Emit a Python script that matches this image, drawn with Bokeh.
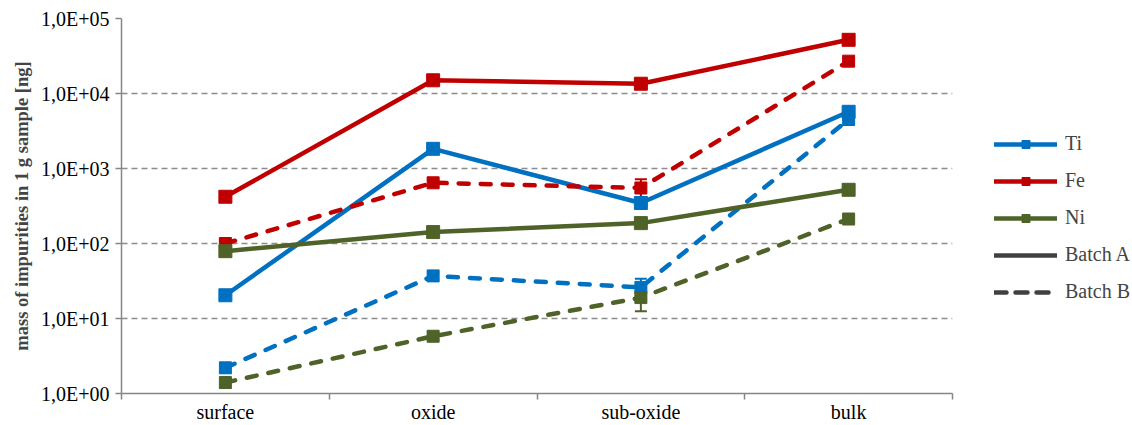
from bokeh.plotting import figure
from bokeh.layouts import row
from bokeh.models import (FixedTicker, Legend, LegendItem, ColumnDataSource, Whisker, TeeHead, Range1d)
from bokeh.embed import file_html
from bokeh.resources import INLINE

categories = ["surface", "oxide", "sub-oxide", "bulk"]
ti_a = [20.4, 1830, 347, 5700]
fe_a = [420, 15000, 13500, 52000]
ni_a = [79, 142, 187, 520]
ti_b = [2.2, 37, 26, 4500]
fe_b = [100, 645, 550, 27000]
ni_b = [1.4, 5.8, 19, 212]
ti_b_err = [0.3, 4, 8, 600]
fe_b_err = [10, 60, 170, 3000]
ni_b_err = [0.2, 0.6, 6.5, 25]
y_ticks = [1, 10, 100, 1000, 10000, 100000]
y_tick_labels = ["1,0E+00", "1,0E+01", "1,0E+02", "1,0E+03", "1,0E+04", "1,0E+05"]
legend_labels = ["Ti", "Fe", "Ni", "Batch A", "Batch B"]

colors = {"Ti": "#0070C0", "Fe": "#C00000", "Ni": "#4F6228"}
FONT = "Liberation Serif"
H = 425

xs = [i + 0.5 for i in range(len(categories))]

p = figure(width=956, height=H, y_axis_type="log", output_backend="svg",
           toolbar_location=None, x_range=Range1d(0, len(categories)),
           y_range=Range1d(1, 100000),
           min_border_left=121, min_border_top=18, min_border_right=4, min_border_bottom=32)
p.outline_line_color = None
p.background_fill_color = "white"

p.xaxis.ticker = FixedTicker(ticks=xs, minor_ticks=list(range(len(categories) + 1)))
p.xaxis.major_label_overrides = {x: c for x, c in zip(xs, categories)}
p.xaxis.major_tick_line_color = None
p.xaxis.major_tick_out = 0
p.xaxis.major_tick_in = 0
p.xaxis.minor_tick_out = 6
p.xaxis.minor_tick_in = 0
p.xaxis.minor_tick_line_color = "#868686"
p.xaxis.minor_tick_line_width = 1.5
p.xaxis.axis_line_color = "#868686"
p.xaxis.axis_line_width = 1.5
p.xaxis.major_label_text_font = FONT
p.xaxis.major_label_text_font_size = "20px"
p.xaxis.major_label_text_color = "black"
p.xaxis.major_label_standoff = 1

p.yaxis.ticker = FixedTicker(ticks=y_ticks, minor_ticks=[])
p.yaxis.major_label_overrides = {t: l for t, l in zip(y_ticks, y_tick_labels)}
p.yaxis.major_tick_out = 6
p.yaxis.major_tick_in = 0
p.yaxis.major_tick_line_color = "#868686"
p.yaxis.major_tick_line_width = 1.5
p.yaxis.axis_line_color = "#868686"
p.yaxis.axis_line_width = 1.5
p.yaxis.major_label_text_font = FONT
p.yaxis.major_label_text_font_size = "20px"
p.yaxis.major_label_text_color = "black"
p.yaxis.major_label_standoff = 6
p.yaxis.axis_label = "mass of impurities in 1 g sample [ng]"
p.yaxis.axis_label_text_font = FONT
p.yaxis.axis_label_text_font_style = "bold"
p.yaxis.axis_label_text_font_size = "18.5px"
p.yaxis.axis_label_standoff = 6

p.xgrid.grid_line_color = None
p.ygrid.grid_line_color = "#8c8c8c"
p.ygrid.grid_line_dash = "6 4"
p.ygrid.grid_line_width = 1.5

series = [
    ("Ti", ti_a, ti_b, ti_b_err),
    ("Fe", fe_a, fe_b, fe_b_err),
    ("Ni", ni_a, ni_b, ni_b_err),
]

for name, a, b, err in series:
    c = colors[name]
    srcb = ColumnDataSource(dict(x=xs, y=b,
                                 lo=[v - e for v, e in zip(b, err)],
                                 hi=[v + e for v, e in zip(b, err)]))
    p.line("x", "y", source=srcb, line_color=c, line_width=4.5, line_dash="10 12", line_cap="round")
    w = Whisker(source=srcb, base="x", lower="lo", upper="hi", line_color=c, line_width=2,
                upper_head=TeeHead(size=12, line_color=c, line_width=2),
                lower_head=TeeHead(size=12, line_color=c, line_width=2))
    p.add_layout(w)
    p.scatter("x", "y", source=srcb, marker="square", size=12, fill_color=c, line_color=c)
    srca = ColumnDataSource(dict(x=xs, y=a))
    p.line("x", "y", source=srca, line_color=c, line_width=4.5)
    p.scatter("x", "y", source=srca, marker="square", size=13, fill_color=c, line_color=c)

# legend figure (no axes); dummy glyphs lie outside its ranges
lf = figure(width=176, height=H, output_backend="svg", toolbar_location=None,
            x_range=Range1d(0, 1), y_range=Range1d(0, 1),
            x_axis_location=None, y_axis_location=None,
            min_border=0, min_border_left=0, min_border_right=0, min_border_top=0, min_border_bottom=0)
lf.grid.visible = False
lf.outline_line_color = None

off = [-10]
leg_items = []
for name in legend_labels[:3]:
    c = colors[name]
    l = lf.line(off, off, line_color=c, line_width=4.5, line_cap="round")
    m = lf.scatter(off, off, marker="square", size=10, fill_color=c, line_color=c)
    leg_items.append(LegendItem(label=name, renderers=[l, m]))
la = lf.line(off, off, line_color="#404040", line_width=4.5, line_cap="round")
lb = lf.line(off, off, line_color="#404040", line_width=4.5, line_dash="12 9", line_cap="round")
leg_items.append(LegendItem(label=legend_labels[3], renderers=[la]))
leg_items.append(LegendItem(label=legend_labels[4], renderers=[lb]))

legend = Legend(items=leg_items, location=(38, 90), orientation="vertical",
                glyph_width=63, glyph_height=20, label_height=20, spacing=14,
                label_text_font=FONT, label_text_font_size="20px", label_standoff=8,
                border_line_color=None, background_fill_alpha=0, padding=0, margin=0)
lf.add_layout(legend, "center")

layout = row(p, lf, spacing=0)
open("out.html", "w").write(file_html(layout, INLINE))
